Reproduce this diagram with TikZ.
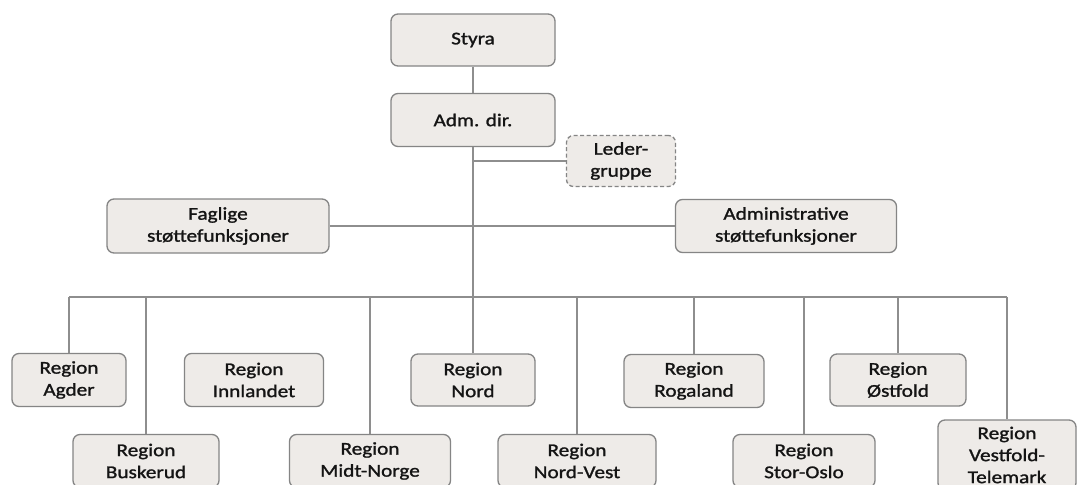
\documentclass[tikz,border=0pt]{standalone}
\usepackage{fontspec}
\setmainfont[FakeStretch=1.18,FakeBold=1.3]{Carlito}
\definecolor{boxfill}{HTML}{EEEBE8}
\definecolor{boxline}{HTML}{858585}
\definecolor{linec}{HTML}{8E8E8E}
\definecolor{txt}{HTML}{141414}
\begin{document}
\begin{tikzpicture}[x=1pt,y=-1pt,
  box/.style={draw=boxline, fill=boxfill, rounded corners=7pt, line width=1.3pt,
    align=center, font=\fontsize{18}{22}\selectfont, text=txt, inner sep=0pt},
  dbox/.style={box, dashed, dash pattern=on 4pt off 2.5pt},
  conn/.style={draw=linec, line width=1.4pt}]
\useasboundingbox (0,0) rectangle (1080,485);
\fill[white] (0,0) rectangle (1080,485);
% top
\node[box, minimum width=164pt, minimum height=52pt] (styra) at (473,40) {Styra};
\node[box, minimum width=164pt, minimum height=53pt] (adm) at (473,120) {Adm. dir.};
\node[dbox, minimum width=109pt, minimum height=51pt] (leder) at (621,161) {Leder-\\gruppe};
\node[box, minimum width=222pt, minimum height=54pt] (fag) at (218,226) {Faglige\\støttefunksjoner};
\node[box, minimum width=221pt, minimum height=53pt] (admsf) at (786,226) {Administrative\\støttefunksjoner};
% row 1
\node[box, minimum width=114pt, minimum height=53pt] (agder) at (69,380) {Region\\Agder};
\node[box, minimum width=139pt, minimum height=53pt] (innl) at (254,380) {Region\\Innlandet};
\node[box, minimum width=124pt, minimum height=52pt] (nord) at (473,380) {Region\\Nord};
\node[box, minimum width=140pt, minimum height=53pt] (roga) at (694,381) {Region\\Rogaland};
\node[box, minimum width=136pt, minimum height=52pt] (ostf) at (898,380) {Region\\Østfold};
% row 2
\node[box, minimum width=146pt, minimum height=53pt] (busk) at (146,461) {Region\\Buskerud};
\node[box, minimum width=161pt, minimum height=53pt] (midt) at (370,461) {Region\\Midt-Norge};
\node[box, minimum width=158pt, minimum height=53pt] (nv) at (577,461) {Region\\Nord-Vest};
\node[box, minimum width=142pt, minimum height=53pt] (stor) at (804,461) {Region\\Stor-Oslo};
\node[box, minimum width=138pt, minimum height=70pt] (vest) at (1007,455) {Region\\Vestfold-\\Telemark};
% connectors
\coordinate (busL) at (69,297);
\coordinate (busR) at (1007,297);
\coordinate (trunk) at (473,297);
\draw[conn] (styra) -- (adm);
\draw[conn] (adm) -- (trunk);
\draw[conn] (leder.west) -- (leder.west -| adm);
\draw[conn] (fag) -- (admsf);
\draw[conn] (busL) -- (busR);
\foreach \n in {agder,busk,midt,nord,nv,roga,stor,ostf,vest}
  \draw[conn] (\n.north) -- (\n.north |- busL);
\end{tikzpicture}
\end{document}
